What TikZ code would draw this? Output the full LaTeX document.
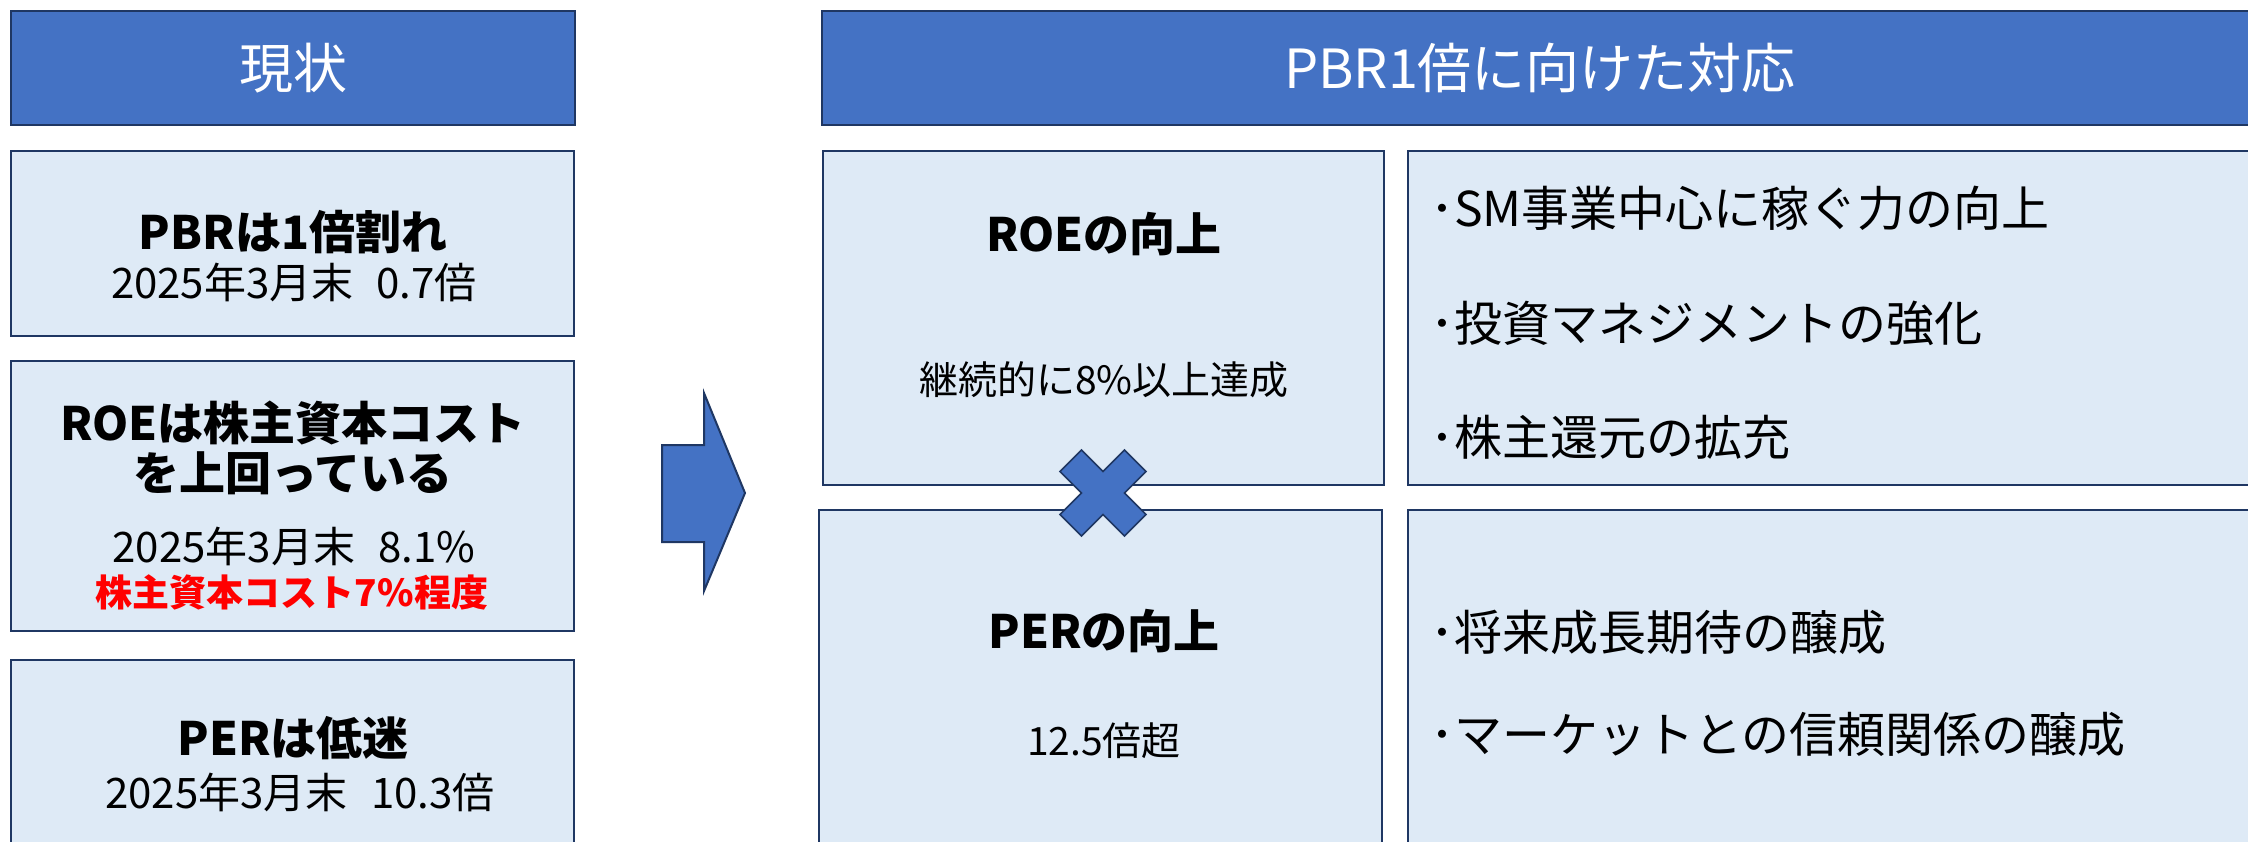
\documentclass[tikz,border=0pt]{standalone}
\usepackage{fontspec}
\setmainfont{Noto Sans CJK JP}
\definecolor{hdrblue}{HTML}{4472C4}
\definecolor{navy}{HTML}{1F3763}
\definecolor{lightbox}{HTML}{DEEAF6}
\definecolor{redtxt}{HTML}{FF0000}
\tikzset{
  hdrbox/.style={draw=navy, fill=hdrblue, line width=2.5pt, inner sep=0pt, rectangle},
  infobox/.style={draw=navy, fill=lightbox, line width=2.5pt, inner sep=0pt, rectangle},
  hdrtxt/.style={text=white, inner sep=0pt, font=\fontsize{54}{60}\selectfont},
  bigtxt/.style={text=black, inner sep=0pt, font=\fontsize{46}{52}\selectfont\bfseries},
  regtxt/.style={text=black, inner sep=0pt, font=\fontsize{42}{48}\selectfont},
  redtext/.style={text=redtxt, inner sep=0pt, font=\fontsize{37}{42}\selectfont\bfseries},
  smalltxt/.style={text=black, inner sep=0pt, font=\fontsize{39}{44}\selectfont},
  bullettxt/.style={text=black, inner sep=0pt, anchor=west, font=\fontsize{48}{54}\selectfont},
  shapefill/.style={draw=navy, fill=hdrblue, line width=2pt, line join=miter}
}
\begin{document}
\begin{tikzpicture}[x=1pt,y=-1pt]
\useasboundingbox (0,0) rectangle (2248,841);
\clip (0,0) rectangle (2248,841);
\fill[white] (0,0) rectangle (2248,841);
% left column
\node[hdrbox, minimum width=564pt, minimum height=114pt] (lhdr) at (293,68) {};
\node[infobox, minimum width=563pt, minimum height=185pt] (pbr) at (292.5,243.5) {};
\node[infobox, minimum width=563pt, minimum height=270pt] (roe) at (292.5,496) {};
\node[infobox, minimum width=563pt, minimum height=220pt] (per) at (292.5,770) {};
% right column
\node[hdrbox, minimum width=1436pt, minimum height=114pt] (rhdr) at (1540,68) {};
\node[infobox, minimum width=561pt, minimum height=334pt] (roeup) at (1103.5,318) {};
\node[infobox, minimum width=563pt, minimum height=370pt] (perup) at (1100.5,695) {};
\node[infobox, minimum width=862pt, minimum height=334pt] (rtop) at (1839,318) {};
\node[infobox, minimum width=862pt, minimum height=370pt] (rbot) at (1839,695) {};
% arrow
\draw[shapefill] (662,445) -- (704,445) -- (704,393) -- (745,493) -- (704,591) -- (704,542) -- (662,542) -- cycle;
% cross
\begin{scope}[shift={(1103,493)}]
\draw[shapefill, line width=1.5pt] (0,-21.5) -- (21.5,-43) -- (43,-21.5) -- (21.5,0) -- (43,21.5) -- (21.5,43) -- (0,21.5) -- (-21.5,43) -- (-43,21.5) -- (-21.5,0) -- (-43,-21.5) -- (-21.5,-43) -- cycle;
\end{scope}
% texts left
\node[hdrtxt] (t1) at (293,68) {現状};
\node[bigtxt] (t2) at (293,232) {PBRは1倍割れ};
\node[regtxt] (t3) at (294,282) {2025年3月末\hspace{0.55em}0.7倍};
\node[bigtxt] (t4) at (293,423) {ROEは株主資本コスト};
\node[bigtxt] (t5) at (293,473) {を上回っている};
\node[regtxt] (t6) at (294,546) {2025年3月末\hspace{0.55em}8.1\%};
\node[redtext] (t7) at (292,592) {株主資本コスト7\%程度};
\node[bigtxt] (t8) at (293,738) {PERは低迷};
\node[regtxt] (t9) at (300,792) {2025年3月末\hspace{0.55em}10.3倍};
% texts right
\node[hdrtxt] (t10) at (1540,68) {PBR1倍に向けた対応};
\node[bigtxt] (t11) at (1104,234) {ROEの向上};
\node[smalltxt] (t12) at (1104,380) {継続的に8\%以上達成};
\node[bigtxt] (t13) at (1104,631) {PERの向上};
\node[smalltxt] (t14) at (1104,741) {12.5倍超};
\node[bullettxt] (b1) at (1430,208) {･SM事業中心に稼ぐ力の向上};
\node[bullettxt] (b2) at (1430,323) {･投資マネジメントの強化};
\node[bullettxt] (b3) at (1430,437) {･株主還元の拡充};
\node[bullettxt] (b4) at (1430,632) {･将来成長期待の醸成};
\node[bullettxt] (b5) at (1430,734) {･マーケットとの信頼関係の醸成};
\end{tikzpicture}
\end{document}
